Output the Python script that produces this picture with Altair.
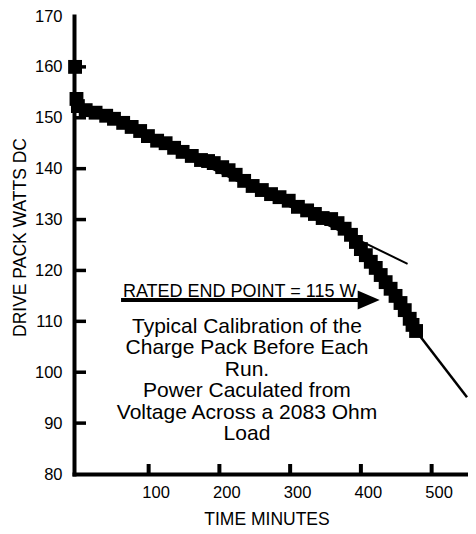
import altair as alt
import pandas as pd

# ---- data ----
time_min = [-4, -2, 0, 11, 25, 40, 51, 64, 76, 88, 99, 112, 124, 136, 148, 161,
            174, 184, 192, 204, 213, 223, 235, 247, 260, 273, 285, 298, 311, 324,
            335, 346, 358, 367, 377, 386, 393, 400, 407, 414, 421, 428, 435, 442,
            449, 456, 462, 469, 473, 478]
watts = [160.0, 153.7, 152.3, 151.5, 151.0, 150.4, 149.8, 149.0, 148.2, 147.4, 146.4,
         145.5, 145.0, 144.1, 143.3, 142.5, 141.7, 141.5, 141.1, 140.3, 139.7, 138.8,
         137.6, 136.6, 135.8, 135.0, 134.4, 133.7, 132.5, 131.8, 131.1, 130.3, 130.1,
         129.3, 128.2, 127.0, 125.6, 124.2, 123.0, 121.7, 120.5, 119.1, 117.7, 116.4,
         115.0, 113.6, 112.2, 110.5, 109.3, 108.1]

tangent_t = [179, 466]
tangent_w = [140.7, 121.3]
extension_t = [478, 550]
extension_w = [108.1, 95.1]

arrow_t = [61, 401]
arrow_w = [114.2, 114.2]
arrow_head_t = [411]
arrow_head_w = [114.2]

rated_label = ["RATED END POINT = 115 W"]
rated_t = [63.6]
rated_w = [114.8]

note_lines = ["Typical Calibration of the", "Charge Pack Before Each", "Run.",
              "Power Caculated from", "Voltage Across a 2083 Ohm", "Load"]
note_t = [239]
note_w = [108.9]

x_tick_values = [100, 200, 300, 400, 500]
y_label_values = [80, 90, 100, 110, 120, 130, 140, 150, 160, 170]
y_tick_values = [90, 100, 110, 120, 130, 140, 150, 160]

# ---- chart ----
FONT = "Liberation Sans"
W, H = 394, 458

xscale = alt.Scale(domain=[-5.5, 551.4], nice=False, zero=False)
yscale = alt.Scale(domain=[80, 170], nice=False, zero=False)

xaxis = alt.Axis(values=x_tick_values, title="TIME MINUTES", grid=False, ticks=False,
                 tickSize=0, domainColor="black", domainWidth=4, domainCap="square",
                 labelColor="black", labelFont=FONT, labelFontSize=16.5,
                 labelBaseline="middle", labelPadding=18, labelOffset=7, labelFlush=False,
                 titleFont=FONT, titleFontSize=17.5, titleFontWeight="normal",
                 titleColor="black", titleX=192.5, titleY=50,
                 titleBaseline="alphabetic", titleAlign="center")
yaxis = alt.Axis(values=y_label_values, title="DRIVE PACK WATTS DC", grid=False,
                 ticks=False, tickSize=0, domainColor="black", domainWidth=4,
                 domainCap="square", labelColor="black", labelFont=FONT,
                 labelFontSize=16.5, labelPadding=12, labelFlush=False,
                 labelOverlap=False, titleFont=FONT, titleFontSize=17.5,
                 titleFontWeight="normal", titleColor="black", titleX=-49,
                 titleY=221, titleAngle=270, titleBaseline="alphabetic",
                 titleAlign="center")

X = lambda: alt.X("t:Q", scale=xscale, axis=xaxis)
Y = lambda: alt.Y("w:Q", scale=yscale, axis=yaxis)

pts = pd.DataFrame({"t": time_min, "w": watts})
squares = alt.Chart(pts).mark_square(size=192, color="black", opacity=1, filled=True).encode(
    x=X(), y=Y())

tangent = alt.Chart(pd.DataFrame({"t": tangent_t, "w": tangent_w})).mark_line(
    color="black", strokeWidth=2).encode(x=X(), y=Y())
extension = alt.Chart(pd.DataFrame({"t": extension_t, "w": extension_w})).mark_line(
    color="black", strokeWidth=2.5).encode(x=X(), y=Y())

yticks = alt.Chart(pd.DataFrame({"w": y_tick_values})).mark_rule(
    color="black", strokeWidth=3.5).encode(y=Y(), x=alt.value(0), x2=alt.value(12))
xticks = alt.Chart(pd.DataFrame({"t": x_tick_values})).mark_rule(
    color="black", strokeWidth=4).encode(x=X(), y=alt.value(H), y2=alt.value(H - 10))

arrow = alt.Chart(pd.DataFrame({"t": arrow_t, "w": arrow_w})).mark_line(
    color="black", strokeWidth=4).encode(x=X(), y=Y())
head = alt.Chart(pd.DataFrame({"t": arrow_head_t, "w": arrow_head_w})).mark_point(
    shape="M-1,-0.86L1,0L-1,0.86Z", size=484, filled=True, color="black",
    opacity=1, strokeWidth=0).encode(x=X(), y=Y())

rated = alt.Chart(pd.DataFrame({"t": rated_t, "w": rated_w, "label": rated_label})).mark_text(
    align="left", baseline="alphabetic", font=FONT, fontSize=18, color="black").encode(
    x=X(), y=Y(), text="label:N")

note = alt.Chart(pd.DataFrame({"t": note_t, "w": note_w,
                               "label": ["\n".join(note_lines)]})).mark_text(
    align="center", baseline="middle", font=FONT, fontSize=21, lineHeight=21.4,
    lineBreak="\n", color="black").encode(x=X(), y=Y(), text="label:N")

chart = alt.layer(tangent, extension, squares, yticks, xticks, arrow, head, rated, note).properties(
    width=W, height=H,
    autosize=alt.AutoSizeParams(type="none"),
    padding={"left": 66, "top": 8, "right": 0, "bottom": 52},
    background="white",
).configure_view(stroke=None)

chart.save("out.html", embed_options={"renderer": "svg", "actions": False})
